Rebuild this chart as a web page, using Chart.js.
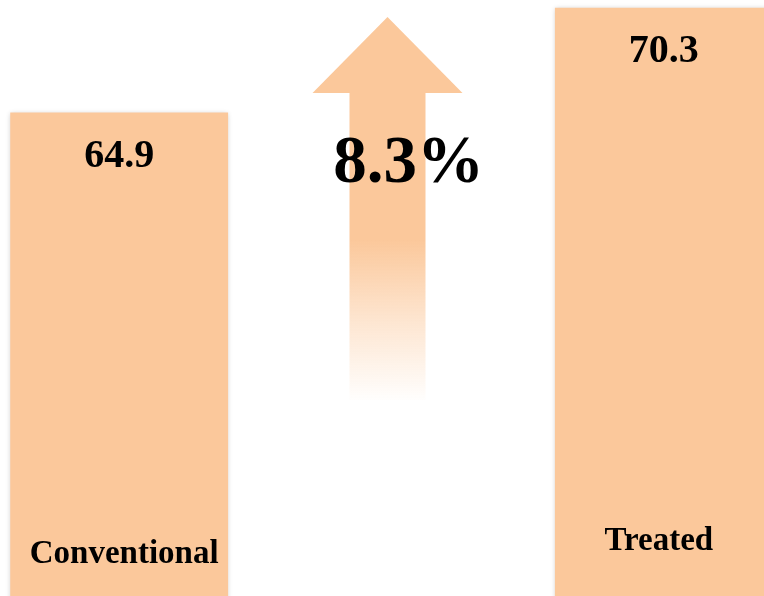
<!DOCTYPE html>
<html>
<head>
<meta charset="utf-8">
<script src="https://cdn.jsdelivr.net/npm/chart.js@4/dist/chart.umd.min.js"></script>
<style>
    html, body { margin: 0; padding: 0; background: #ffffff; overflow: hidden; }
    #wrap { position: relative; width: 764px; height: 596px; overflow: hidden; }
    #barChart { position: absolute; left: -17px; top: 0; }
</style>
</head>
<body>
<div id="wrap">
    <canvas id="barChart" width="817" height="596"></canvas>
</div>
<script>
// middle slot stays empty, the arrow sits there
var groups = ['Conventional', '', 'Treated'];
var yields = [64.9, null, 70.3];

var barColor = '#fbc89b';
var fontFamily = '"Liberation Serif", "DejaVu Serif", serif';

function percentGain() {
    var before = yields[0];
    var after = yields[2];
    return ((after - before) / before * 100).toFixed(1) + '%';
}

var barShadow = {
    id: 'barShadow',
    beforeDatasetsDraw: function(chart) {
        var ctx = chart.ctx;
        ctx.save();
        ctx.shadowColor = 'rgba(0, 0, 0, 0.2)';
        ctx.shadowBlur = 5;
    },
    afterDatasetsDraw: function(chart) {
        chart.ctx.restore();
    }
};

var growthArrow = {
    id: 'growthArrow',
    beforeDatasetsDraw: function(chart) {
        var ctx = chart.ctx;
        var cx = chart.scales.x.getPixelForValue(1) - 4;
        var tipY = 17, headY = 93, endY = 400;

        ctx.save();
        ctx.fillStyle = barColor;
        ctx.beginPath();
        ctx.moveTo(cx, tipY);
        ctx.lineTo(cx + 75, headY);
        ctx.lineTo(cx - 75, headY);
        ctx.closePath();
        ctx.fill();

        // shaft fades out towards the bottom
        var grad = ctx.createLinearGradient(0, headY, 0, endY);
        grad.addColorStop(0, 'rgba(251, 200, 155, 1)');
        grad.addColorStop(0.48, 'rgba(251, 200, 155, 1)');
        grad.addColorStop(0.75, 'rgba(251, 200, 155, 0.45)');
        grad.addColorStop(1, 'rgba(251, 200, 155, 0.02)');
        ctx.fillStyle = grad;
        ctx.fillRect(cx - 38, headY - 1, 76, endY - headY + 1);
        ctx.restore();
    },
    afterDraw: function(chart) {
        var ctx = chart.ctx;
        var cx = chart.scales.x.getPixelForValue(1) - 4;
        ctx.save();
        ctx.fillStyle = '#000000';
        ctx.textAlign = 'center';
        ctx.textBaseline = 'alphabetic';
        ctx.font = 'bold 67px ' + fontFamily;
        ctx.fillText(percentGain(), cx + 21, 182);
        ctx.restore();
    }
};

var barLabels = {
    id: 'barLabels',
    afterDraw: function(chart) {
        var ctx = chart.ctx;
        var meta = chart.getDatasetMeta(0);
        var bottom = chart.chartArea.bottom;
        var nameLift = [33, 0, 46];
        var nameShift = [5, 0, -5];

        ctx.save();
        ctx.fillStyle = '#000000';
        ctx.textAlign = 'center';
        ctx.textBaseline = 'alphabetic';
        for (var i = 0; i < yields.length; i++) {
            if (yields[i] === null) continue;
            var bar = meta.data[i];
            ctx.font = 'bold 40px ' + fontFamily;
            ctx.fillText(yields[i].toFixed(1), bar.x, bar.y + 54);
            ctx.font = 'bold 33px ' + fontFamily;
            ctx.fillText(groups[i], bar.x + nameShift[i], bottom - nameLift[i]);
        }
        ctx.restore();
    }
};

var ctx = document.getElementById('barChart');
var chart = new Chart(ctx, {
    type: 'bar',
    data: {
        labels: groups,
        datasets: [{
            data: yields,
            backgroundColor: barColor,
            borderWidth: 0,
            barPercentage: 0.8,
            categoryPercentage: 1.0
        }]
    },
    options: {
        responsive: false,
        animation: false,
        layout: { padding: 0 },
        plugins: {
            legend: { display: false },
            tooltip: { enabled: false }
        },
        scales: {
            x: { display: false },
            y: { display: false, min: 40, max: 70.7 }
        }
    },
    plugins: [growthArrow, barShadow, barLabels]
});
</script>
</body>
</html>
